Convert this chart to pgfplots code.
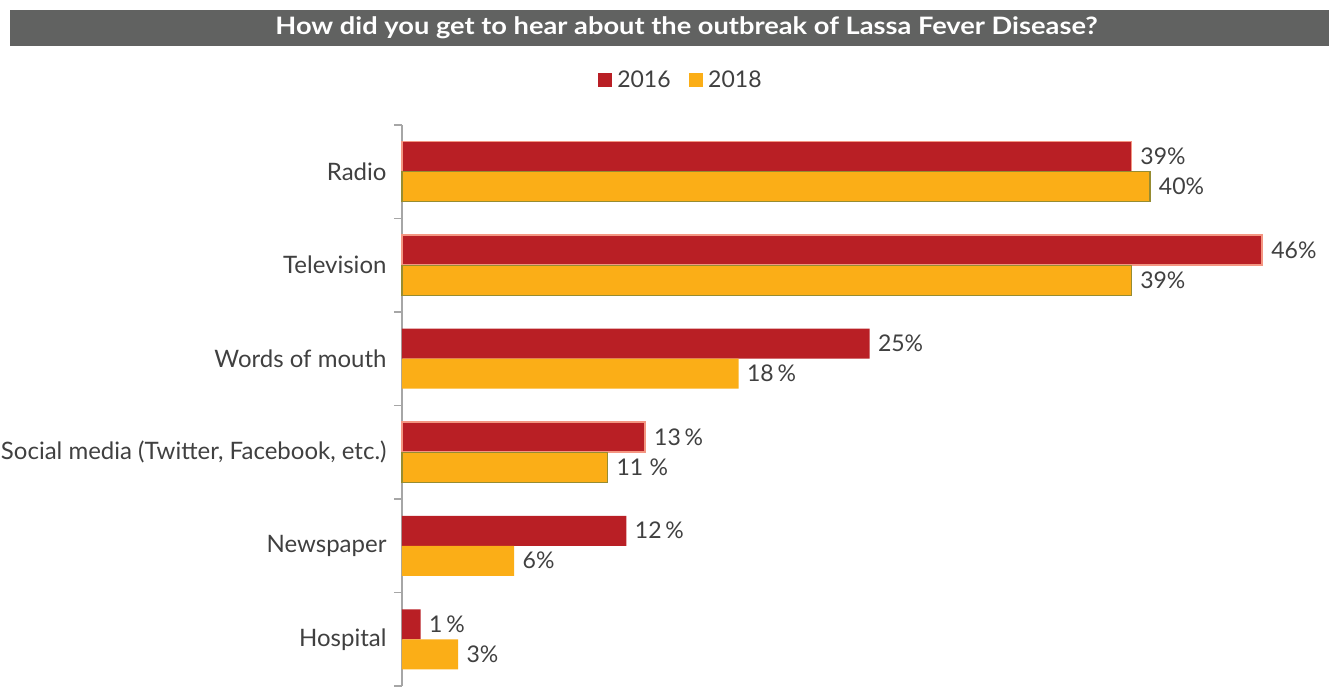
\documentclass[border=0pt]{standalone}
\usepackage{fontspec}
\setmainfont{Lato}
\usepackage{graphicx}
\usepackage{pgfplots}
\pgfplotsset{compat=1.18}
\definecolor{c16}{RGB}{185,31,37}
\definecolor{c18}{RGB}{251,174,23}
\definecolor{e16}{RGB}{244,150,130}
\definecolor{e18}{RGB}{150,140,50}
\definecolor{tbar}{RGB}{97,98,97}
\definecolor{txt}{RGB}{64,64,64}
\definecolor{axg}{RGB}{166,166,166}
\begin{document}
\begin{tikzpicture}[x=1pt,y=1pt]
\useasboundingbox (0,0) rectangle (1339,686);
\fill[tbar] (10,640) rectangle (1329,676);
\node[text=white,font=\fontsize{24}{28}\selectfont\bfseries] at (686.5,658) {\scalebox{1.135}[1]{How did you get to hear about the outbreak of Lassa Fever Disease?}};
\begin{axis}[
  at={(402pt,0pt)}, anchor=south west,
  scale only axis, width=927pt, height=561pt,
  xmin=0, xmax=49.57, ymin=-0.5, ymax=5.5,
  xbar, bar width=30pt,
  axis x line=none, axis y line*=left,
  y axis line style={axg, line width=1.5pt, -},
  ytick={0,1,2,3,4,5},
  yticklabels={Hospital,Newspaper,{Social media (Twitter, Facebook, etc.)},Words of mouth,Television,Radio},
  major tick length=0pt,
  minor ytick={-0.5,0.5,1.5,2.5,3.5,4.5,5.5},
  minor tick length=8pt, tick align=outside,
  minor tick style={axg, line width=1.5pt},
  yticklabel style={font=\fontsize{24}{28}\selectfont, text=txt, xshift=-12pt},
  clip=false,
  point meta=explicit symbolic,
  nodes near coords,
  nodes near coords style={font=\fontsize{23}{27}\selectfont, text=txt, anchor=west, xshift=5pt},
  legend columns=2,
  legend style={draw=none, at={(0.3005,1.080)}, anchor=center, font=\fontsize{23}{27}\selectfont, text=txt,
    /tikz/every even column/.append style={column sep=16pt}},
  legend image code/.code={\fill[#1,draw=none] (0pt,-7pt) rectangle (14pt,7pt); \path (17pt,0pt);},
]
\addplot[fill=c16, draw=e16, line width=1.5pt, bar shift=15pt] coordinates {(39,5) [39\%] (46,4) [46\%] (13,2) [13\,\%]};
\addlegendentry{2016}
\addplot[fill=c16, draw=none, bar shift=15pt, forget plot] coordinates {(25,3) [25\%] (12,1) [12\,\%] (1,0) [1\,\%]};
\addplot[fill=c18, draw=e18, line width=1.2pt, bar shift=-15pt] coordinates {(40,5) [40\%] (39,4) [39\%] (11,2) [11\;\%]};
\addlegendentry{2018}
\addplot[fill=c18, draw=none, bar shift=-15pt, forget plot] coordinates {(18,3) [18\,\%] (6,1) [6\%] (3,0) [3\%]};
\end{axis}
\end{tikzpicture}
\end{document}
